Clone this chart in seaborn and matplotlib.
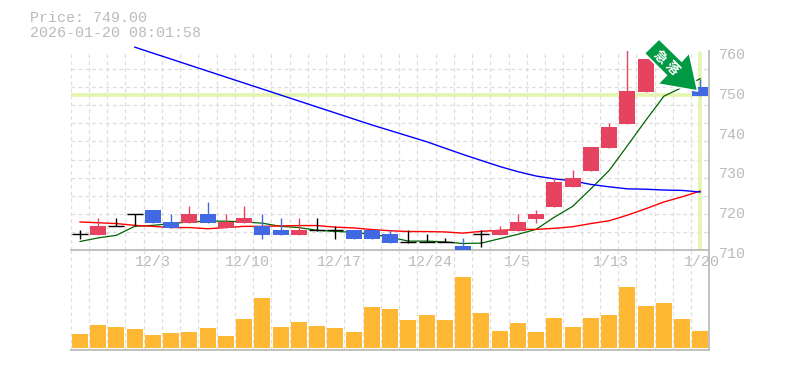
"""Stock chart: candles with moving averages on top, volume bars below."""

import matplotlib
matplotlib.use("Agg")
import matplotlib.pyplot as plt
from matplotlib.patches import Polygon
from matplotlib.transforms import ScaledTranslation
import seaborn as sns
import numpy as np
import pandas as pd

# ── DATA ──────────────────────────────────────────────────────────────────────
opens = [714, 713.75, 716, 719, 720, 717, 716.75, 719, 715.6, 716.75, 716, 715, 713.75, 715, 715,
         715, 715, 714, 712, 712, 712, 711, 714, 713.75, 714.75, 717.75, 720.75, 725.75, 729.75,
         735.75, 741.75, 749.75, 762, 764, 751]
closes = [714, 716, 716, 719, 716.75, 715.7, 719, 716.75, 717, 718, 713.75, 713.75, 715, 715, 715,
          712.75, 712.75, 711.75, 712, 712, 712, 710, 714, 715, 717, 719, 727, 728, 736,
          741, 750, 758, 768, 766, 748.75]
highs = [715, 718, 718, 719, 720, 719, 721, 722, 719, 721, 719, 718, 718, 718, 716,
         715, 715, 715, 715, 714, 713, 713, 715, 716, 719, 720, 728, 730, 736,
         742, 765, 758, 770, 768, 753]
lows = [712.9, 713.75, 716, 716, 716.75, 715.7, 716.75, 716.75, 715.6, 716.75, 712.75, 713.75, 713.75, 714.8, 712.75,
        712.75, 712.75, 711.75, 711.9, 712, 712, 710, 710.8, 713.75, 714.75, 716.75, 720.75, 725.75, 729.75,
        735.75, 741.75, 749.75, 762, 764, 748.75]

ma_green = [712.2, 713.1, 713.75, 716, 716.25, 716.7, 717.1, 717.3, 717.3, 717.1, 716.8, 716, 715.7, 715, 714.75,
            714.5, 714, 713.3, 712.3, 712.3, 712.1, 711.7, 711.8, 712.9, 714, 715.25, 718.3, 721, 725.4,
            730, 736.2, 742.5, 748.6, 750.8, 753]
ma_red = [717.1, 716.9, 716.7, 716.25, 716, 715.7, 715.7, 715.4, 715.7, 716, 716, 716.1, 716.2, 716.2, 715.8,
          715.6, 715.2, 714.9, 714.7, 714.7, 714.6, 714.3, 714.75, 715, 715.2, 715.25, 715.5, 715.9, 716.7,
          717.4, 718.8, 720.4, 722.1, 723.4, 724.85]
ma_blue = [760.9, 759.4, 757.9, 756.4, 754.9, 753.4, 751.9, 750.4, 748.9, 747.4, 745.9, 744.4, 742.9, 741.4, 740,
           738.6, 737.2, 735.6, 734, 732.5, 731, 729.7, 728.6, 727.9, 727.4, 726.5, 725.9, 725.4, 725.3, 725.1, 725,
           724.6]
volume = [14, 23, 21, 19, 13, 15, 16, 20, 12, 29, 50, 21, 26, 22, 20, 16, 41, 39,
          28, 33, 28, 71, 35, 17, 25, 16, 30, 21, 30, 33, 61, 42, 45, 29, 17]

date_labels = ["12/3", "12/10", "12/17", "12/24", "1/5", "1/13", "1/20"]
date_pos = [4, 9.2, 14.2, 19.2, 24, 29.1, 34.1]
price_ticks = [710, 720, 730, 740, 750, 760]
last_price = 749

# ── STYLE ─────────────────────────────────────────────────────────────────────
sns.set_theme(style="white")
plt.rcParams["font.family"] = ["Liberation Mono", "DejaVu Sans Mono"]
RED = "#E5435F"
BLUE = "#4169E1"
ORANGE = "#FFB833"
GRAY = "#BBBBBB"
GRID = "#DDDDDD"
LIME = "#E3F5AE"
ARROW = "#009944"
W, H = 785, 370
L, R = 70.7, 709.5
n = len(volume)
x = np.arange(n)

fig = plt.figure(figsize=(W / 100, H / 100), dpi=100)
ax = fig.add_axes([L / W, 1 - 250.3 / H, (R - L) / W, 199.6 / H])
vax = fig.add_axes([L / W, 1 - 350 / H, (R - L) / W, 99.7 / H])


def setup_grid(a):
    a.set_xlim(-0.5, n - 0.5)
    a.set_xticks(np.arange(n + 1) - 0.5, minor=True)
    a.grid(which="minor", axis="x", color=GRID, ls=(0, (3, 2.5)), lw=0.9, zorder=0)
    a.tick_params(which="both", length=0)
    a.set_axisbelow(True)
    for side in ["left", "top"]:
        a.spines[side].set_visible(False)
    for side in ["right", "bottom"]:
        a.spines[side].set_color(GRAY)
        a.spines[side].set_linewidth(1.3)


# ── PRICE PANEL ───────────────────────────────────────────────────────────────
setup_grid(ax)
ax.set_ylim(710, 760)
ax.set_yticks(np.linspace(710, 760, 12), minor=True)
ax.grid(which="minor", axis="y", color=GRID, ls=(0, (3, 2.5)), lw=0.9, zorder=0)

ax.axhline(last_price, color=LIME, lw=2.6, zorder=1)
ax.axvline(n - 1, ymax=0.99, color=LIME, lw=2.6, zorder=1)

ma = pd.DataFrame({"x": x, "green": ma_green, "red": ma_red})
sns.lineplot(data=ma, x="x", y="green", color="#006400", lw=0.9, ax=ax, zorder=3)
sns.lineplot(data=ma, x="x", y="red", color="#FF0000", lw=1.0, ax=ax, zorder=3)
sns.lineplot(x=x[3:], y=ma_blue, color="#0000FF", lw=1.0, ax=ax, zorder=3, clip_on=False)

for i in x:
    o, c = opens[i], closes[i]
    if o == c:
        col = "black"
    elif c > o:
        col = RED
    else:
        col = BLUE
    ax.vlines(i, lows[i], highs[i], color=col, lw=1.0, zorder=4)
    if o == c:
        ax.hlines(o, i - 0.44, i + 0.44, color=col, lw=1.0, zorder=4)
    else:
        ax.bar(i, abs(c - o), bottom=min(o, c), width=0.88, color=col, lw=0, zorder=4)

ax.set_xlabel("")
ax.set_ylabel("")
ax.set_xticks(date_pos)
ax.set_xticklabels(date_labels, fontsize=10.8, color=GRAY)
ax.tick_params(axis="x", pad=3.5)
ax.yaxis.tick_right()
ax.set_yticks(price_ticks)
ax.set_yticklabels(price_ticks, fontsize=10.8, color=GRAY)
ax.tick_params(axis="y", pad=6.5)
for lab in ax.get_yticklabels():
    lab.set_transform(lab.get_transform() + ScaledTranslation(0, -2.5 / 100, fig.dpi_scale_trans))

# ── VOLUME PANEL ──────────────────────────────────────────────────────────────
setup_grid(vax)
vol = pd.DataFrame({"x": x, "volume": volume})
sns.barplot(data=vol, x="x", y="volume", color=ORANGE, saturation=1, width=0.88, lw=0, ax=vax, zorder=2)
setup_grid(vax)
vax.set_ylim(-2, 97.7)
vax.set_xlabel("")
vax.set_ylabel("")
vax.set_xticks([])
vax.set_yticks([])
vax.patch.set_alpha(0)

# ── ARROW + HEADER ────────────────────────────────────────────────────────────
arrow_px = np.array([(644.3, 53.3), (659, 39), (681.7, 61), (689.3, 52.7),
                     (697.7, 91), (657.7, 84), (666.3, 75.3)])
fig.add_artist(Polygon(np.c_[arrow_px[:, 0] / W, 1 - arrow_px[:, 1] / H], closed=True,
                       facecolor=ARROW, edgecolor="white", lw=1.2, transform=fig.transFigure, zorder=6))
cjk = ["Noto Sans CJK JP", "DejaVu Sans"]
for ch, (px, py) in zip("急落", [(660, 56.7), (672.3, 68.3)]):
    fig.text(px / W, 1 - py / H, ch, color="white", fontsize=9.5, fontweight="bold", rotation=-45,
             rotation_mode="anchor", ha="center", va="center", family=cjk, zorder=7)

fig.text(30 / W, 1 - 18 / H, "Price: 749.00", color=GRAY, fontsize=10.8, va="center")
fig.text(30 / W, 1 - 33 / H, "2026-01-20 08:01:58", color=GRAY, fontsize=10.8, va="center")

plt.savefig("out.png", dpi=100)
plt.close()
